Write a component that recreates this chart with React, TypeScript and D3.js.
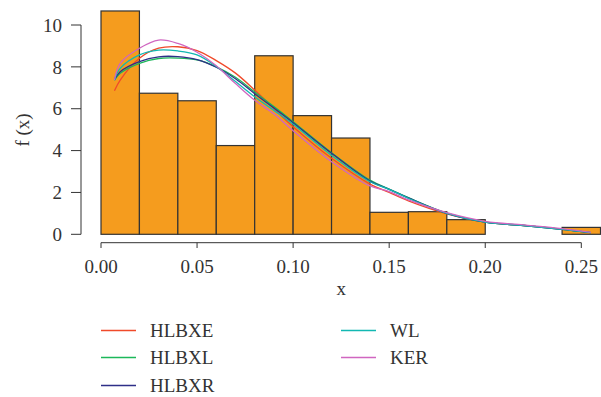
import * as d3 from "d3";
import React, { useRef, useEffect } from "react";

// histogram (density scale), bins of width 0.02
const binEdges = [0, 0.02, 0.04, 0.06, 0.08, 0.1, 0.12, 0.14, 0.16, 0.18, 0.2, 0.22, 0.24, 0.26];
const densities = [10.67, 6.74, 6.38, 4.24, 8.53, 5.67, 4.6, 1.05, 1.08, 0.7, 0, 0, 0.33];

// fitted density curves
const curveX = [0.007, 0.01, 0.02, 0.03, 0.04, 0.05, 0.06, 0.07, 0.08, 0.09, 0.1, 0.12, 0.14, 0.15, 0.16, 0.18, 0.2, 0.22, 0.24, 0.255];
const hlbxe = [6.86, 7.37, 8.41, 8.89, 8.96, 8.78, 8.3, 7.7, 6.89, 6.0, 5.14, 3.63, 2.4, 2.0, 1.6, 0.98, 0.58, 0.42, 0.25, 0.08];
const hlbxl = [7.35, 7.69, 8.17, 8.4, 8.42, 8.33, 8.0, 7.5, 6.8, 6.1, 5.38, 3.9, 2.59, 2.16, 1.75, 1.01, 0.58, 0.42, 0.24, 0.08];
const hlbxr = [7.4, 7.77, 8.25, 8.48, 8.49, 8.35, 7.98, 7.43, 6.72, 6.03, 5.33, 3.87, 2.54, 2.15, 1.74, 1.0, 0.58, 0.42, 0.24, 0.08];
const wl = [7.4, 7.93, 8.57, 8.8, 8.76, 8.57, 8.02, 7.3, 6.57, 5.92, 5.26, 3.77, 2.51, 2.15, 1.72, 1.0, 0.58, 0.42, 0.24, 0.08];
const ker = [7.37, 8.17, 8.89, 9.28, 9.12, 8.7, 8.05, 7.2, 6.4, 5.75, 4.95, 3.47, 2.31, 2.04, 1.64, 1.03, 0.62, 0.45, 0.27, 0.09];

const seriesNames = ["HLBXE", "HLBXL", "HLBXR", "WL", "KER"];
const seriesValues = [hlbxe, hlbxl, hlbxr, wl, ker];
const seriesColors = ["#f04a2a", "#1cb85a", "#2e2f88", "#12b8b2", "#d066c0"];

const xTicks = [0, 0.05, 0.1, 0.15, 0.2, 0.25];
const yTicks = [0, 2, 4, 6, 8, 10];

const W = 601;
const H = 397;
const FONT = "Liberation Serif, DejaVu Serif, serif";
const INK = "#333";

export default function App() {
  const svgRef = useRef<SVGSVGElement>(null);

  useEffect(() => {
    if (!svgRef.current) return;
    const svg = d3.select(svgRef.current);
    svg.selectAll("*").remove();

    const x = d3.scaleLinear([0, 0.25], [101, 581.3]);
    const y = d3.scaleLinear([0, 10], [234.3, 25]);

    // bars
    svg
      .append("g")
      .selectAll("rect")
      .data(densities)
      .join("rect")
      .attr("x", (_, i) => x(binEdges[i]))
      .attr("width", (_, i) => x(binEdges[i + 1]) - x(binEdges[i]))
      .attr("y", (d) => y(d))
      .attr("height", (d) => y(0) - y(d))
      .attr("fill", "#f59c1e")
      .attr("stroke", INK)
      .attr("stroke-width", 1.2);

    // curves
    const line = d3
      .line<number>()
      .curve(d3.curveCatmullRom)
      .x((_, i) => x(curveX[i]))
      .y((d) => y(d));
    seriesValues.forEach((vals, k) => {
      svg
        .append("path")
        .attr("d", line(vals))
        .attr("fill", "none")
        .attr("stroke", seriesColors[k])
        .attr("stroke-width", 1.3);
    });

    // x axis
    const gx = svg.append("g").style("font-family", FONT).attr("font-size", 19).attr("fill", INK);
    gx.append("line")
      .attr("x1", x(0)).attr("x2", x(0.25))
      .attr("y1", 242.7).attr("y2", 242.7)
      .attr("stroke", INK);
    xTicks.forEach((t) => {
      gx.append("line")
        .attr("x1", x(t)).attr("x2", x(t))
        .attr("y1", 242.7).attr("y2", 248)
        .attr("stroke", INK);
      gx.append("text")
        .attr("x", x(t))
        .attr("y", 272.5)
        .attr("text-anchor", "middle")
        .text(d3.format(".2f")(t));
    });
    gx.append("text")
      .attr("x", x(0.125))
      .attr("y", 295)
      .attr("text-anchor", "middle")
      .text("x");

    // y axis
    const gy = svg.append("g").style("font-family", FONT).attr("font-size", 19).attr("fill", INK);
    gy.append("line")
      .attr("x1", 81).attr("x2", 81)
      .attr("y1", y(0)).attr("y2", y(10))
      .attr("stroke", INK);
    yTicks.forEach((t) => {
      gy.append("line")
        .attr("x1", 71).attr("x2", 81)
        .attr("y1", y(t)).attr("y2", y(t))
        .attr("stroke", INK);
      gy.append("text")
        .attr("x", 62)
        .attr("y", y(t))
        .attr("dy", "0.35em")
        .attr("text-anchor", "end")
        .text(String(t));
    });
    gy.append("text")
      .attr("transform", "translate(29,130) rotate(-90)")
      .attr("text-anchor", "middle")
      .text("f (x)");

    // legend
    const legendPos = [
      [101, 330.5],
      [101, 357.5],
      [101, 385.5],
      [341, 330.5],
      [341, 357.5],
    ];
    const lg = svg.append("g").style("font-family", FONT).attr("font-size", 19).attr("fill", INK);
    seriesNames.forEach((name, k) => {
      const [lx, ly] = legendPos[k];
      lg.append("line")
        .attr("x1", lx).attr("x2", lx + 35)
        .attr("y1", ly).attr("y2", ly)
        .attr("stroke", seriesColors[k])
        .attr("stroke-width", 1.5);
      lg.append("text")
        .attr("x", lx + 49)
        .attr("y", ly)
        .attr("dy", "0.35em")
        .text(name);
    });
  });

  return (
    <svg
      ref={svgRef}
      width={W}
      height={H}
      style={{ position: "absolute", left: 0, top: 0, background: "#fff" }}
    />
  );
}
